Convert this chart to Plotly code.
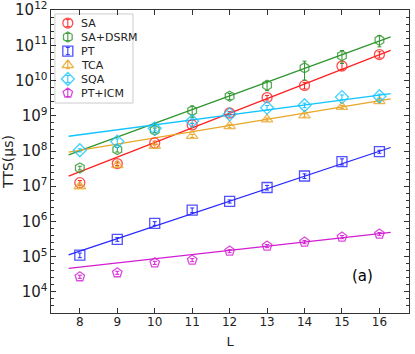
import plotly.graph_objects as go
import numpy as np

# System size L
L = [8, 9, 10, 11, 12, 13, 14, 15, 16]

# TTS values (microseconds)
sa = [1.26e7, 4.4e7, 1.7e8, 5.5e8, 1.2e9, 3.3e9, 7.3e9, 2.6e10, 5.5e10]
sa_dsrm = [3.3e7, 1.1e8, 3.9e8, 1.4e9, 3.6e9, 7.4e9, 2.3e10, 5.1e10, 1.4e11]
pt = [1.1e5, 3.1e5, 8.8e5, 2.1e6, 3.7e6, 9.2e6, 1.95e7, 5.0e7, 9.6e7]
tca = [1.0e7, 4.0e7, 1.4e8, 2.7e8, 5.1e8, 7.9e8, 1.03e9, 1.8e9, 2.6e9]
sqa = [1.05e8, 1.85e8, 4.4e8, 7.1e8, 1.1e9, 1.7e9, 2.0e9, 3.4e9, 3.6e9]
pt_icm = [2.7e4, 3.5e4, 6.7e4, 8.0e4, 1.44e5, 2.0e5, 2.6e5, 3.6e5, 4.4e5]

# relative error bars
sa_err = [0.15, 0.12, 0.12, 0.12, 0.1, 0.15, 0.2, 0.2, 0.2]
sa_dsrm_err = [0.12, 0.15, 0.15, 0.35, 0.2, 0.3, 0.55, 0.4, 0.35]
pt_err = [0.15, 0.12, 0.12, 0.15, 0.1, 0.15, 0.15, 0.2, 0.1]
tca_err = [0.1, 0.1, 0.1, 0.1, 0.1, 0.1, 0.1, 0.1, 0.1]
sqa_err = [0.1, 0.2, 0.15, 0.15, 0.15, 0.15, 0.15, 0.15, 0.15]
pt_icm_err = [0.1, 0.1, 0.1, 0.1, 0.1, 0.1, 0.1, 0.1, 0.1]

# fitted lines: end points (L, TTS)
fit_L = [7.7, 16.3]
sa_fit = [10**7.29, 10**10.86]
sa_dsrm_fit = [10**7.89, 10**11.24]
pt_fit = [10**5.05, 10**8.10]
tca_fit = [10**7.97, 10**9.48]
sqa_fit = [10**8.42, 10**9.63]
pt_icm_fit = [10**4.67, 10**5.69]

series = [
    ("SA", sa, sa_err, sa_fit, "#ff2020", "circle-open"),
    ("SA+DSRM", sa_dsrm, sa_dsrm_err, sa_dsrm_fit, "#2e962e", "hexagon-open"),
    ("PT", pt, pt_err, pt_fit, "#2626ff", "square-open"),
    ("TCA", tca, tca_err, tca_fit, "#e8a628", "triangle-up-open"),
    ("SQA", sqa, sqa_err, sqa_fit, "#14c4ff", "diamond-open"),
    ("PT+ICM", pt_icm, pt_icm_err, pt_icm_fit, "#d21ed2", "pentagon-open"),
]

fig = go.Figure()

for name, y, err, fit, color, sym in series:
    fig.add_trace(go.Scatter(x=fit_L, y=fit, mode="lines", showlegend=False,
                             line=dict(color=color, width=1.3)))

for name, y, err, fit, color, sym in series:
    y = np.array(y)
    fig.add_trace(go.Scatter(
        x=L, y=y, mode="markers", name=name, showlegend=False,
        marker=dict(symbol=sym, size=10, color=color, opacity=0.8,
                    line=dict(width=1.3, color=color)),
        error_y=dict(type="data", array=y * np.array(err), color=color,
                     thickness=1, width=2),
    ))

# hand-made legend (compact rows like the original) on an overlay axis in 0..1
leg_x, leg_text_x, leg_top, leg_step = 0.047, 0.078, 0.957, 0.0462
for i, (name, y, err, fit, color, sym) in enumerate(series):
    yy = leg_top - i * leg_step
    fig.add_trace(go.Scatter(
        x=[leg_x], y=[yy], xaxis="x2", yaxis="y2", mode="markers", showlegend=False,
        marker=dict(symbol=sym, size=10, color=color, opacity=0.8,
                    line=dict(width=1.3, color=color)),
        error_y=dict(type="constant", value=0.012, color=color, thickness=1, width=2),
        hoverinfo="skip",
    ))
    fig.add_annotation(x=leg_text_x, y=yy, xref="paper", yref="paper", text=name,
                       showarrow=False, xanchor="left", yanchor="middle",
                       font=dict(size=11, color="#222"))

fig.add_shape(type="rect", xref="paper", yref="paper", x0=0.011, x1=0.229,
              y0=0.693, y1=0.987, line=dict(color="#cccccc", width=1),
              fillcolor="white", layer="below")

fig.add_annotation(x=0.905, y=0.086, xref="paper", yref="paper",
                   text="(a)", showarrow=False, font=dict(size=15, color="black"))

axis_common = dict(showline=True, linecolor="#333", linewidth=1.2, mirror="allticks",
                   ticks="inside", ticklen=5, tickcolor="#333", showgrid=False,
                   zeroline=False, tickfont=dict(size=12, color="#222"),
                   ticklabeloverflow="allow", automargin=False)

fig.update_layout(
    width=415, height=354,
    margin=dict(l=51, r=6, t=10, b=41),
    paper_bgcolor="white", plot_bgcolor="white",
    font=dict(family="DejaVu Sans", color="#222"),
    xaxis=dict(range=[7.23, 16.79], dtick=1, tick0=8, ticklabelstandoff=-3,
               title=dict(text="L", font=dict(size=13), standoff=9), **axis_common),
    yaxis=dict(type="log", range=[3.4, 12.005], dtick=1, exponentformat="power",
               title=dict(text="TTS(μs)", font=dict(size=14), standoff=4),
               minor=dict(ticks="inside", ticklen=3, dtick=0.2, tickcolor="#333"),
               **axis_common),
    xaxis2=dict(overlaying="x", range=[0, 1], visible=False, fixedrange=True),
    yaxis2=dict(overlaying="y", range=[0, 1], visible=False, fixedrange=True),
)

fig.write_html("out.html", config={"displayModeBar": False},
               post_script="document.body.style.margin='0';")
